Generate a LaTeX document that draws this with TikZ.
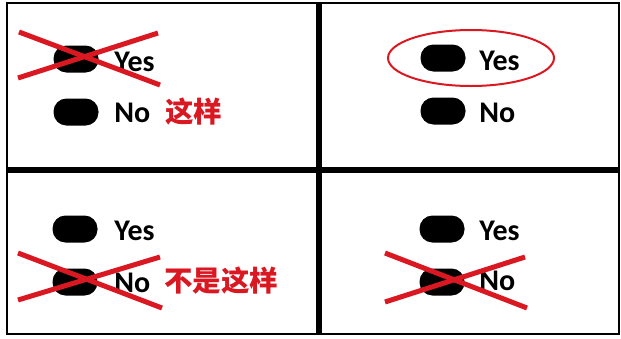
\documentclass[tikz,border=0pt]{standalone}
\usepackage{fontspec}
\setmainfont{Carlito}
\newfontfamily\cjk{Noto Sans CJK SC}
\usetikzlibrary{shapes.geometric,positioning}
\definecolor{markred}{RGB}{218,24,34}
\begin{document}
\begin{tikzpicture}[x=1pt,y=-1pt,semithick]
\tikzstyle{pill node}=[rectangle,fill=black,minimum width=45pt,minimum height=27pt,rounded corners=13pt,inner sep=0]
\tikzstyle{word node}=[anchor=base west,inner sep=0,font=\fontsize{30}{30}\selectfont\bfseries]

\tikzset{
	note node/.style={anchor=base west,inner sep=0,text=markred,font=\fontsize{28.5}{28.5}\selectfont\cjk\bfseries},
	cross line/.style={draw=markred,line width=5pt},
	ring node/.style={ellipse,draw=markred,line width=2pt,minimum width=166pt,minimum height=56pt,inner sep=0}
}
      \useasboundingbox (0,0) rectangle (621,338);
      \draw[line width=2pt] (7,3) rectangle (619,334);
      \draw[line width=6pt] (319,3) -- (319,334);
      \draw[line width=6pt] (7,170) -- (619,170);

      % top left
      \node[pill node] (tlY) at (76,59) {};
      \node[pill node] (tlN) at (76,112) {};
      \node[word node] (tlYes) at (114,71) {Yes};
      \node[word node] (tlNo) at (114,122) {No};
      \node[note node] (tlNote) at (165,122) {这样};
      \coordinate (tla) at (19,32);
      \coordinate (tlb) at (160,85);
      \coordinate (tlc) at (18,78);
      \coordinate (tld) at (158,33);
      \draw[cross line] (tla) -- (tlb);
      \draw[cross line] (tlc) -- (tld);

      % top right
      \node[pill node] (trY) at (443,58) {};
      \node[pill node] (trN) at (443,111) {};
      \node[word node] (trYes) at (479,70) {Yes};
      \node[word node] (trNo) at (479,122) {No};
      \node[ring node] (trRing) at (471,58) {};

      % bottom left
      \node[pill node] (blY) at (75,229) {};
      \node[pill node] (blN) at (75,282) {};
      \node[word node] (blYes) at (114,240) {Yes};
      \node[word node] (blNo) at (114,292) {No};
      \node[note node] (blNote) at (164,291) {不是这样};
      \coordinate (bla) at (18,253);
      \coordinate (blb) at (162,308);
      \coordinate (blc) at (18,300);
      \coordinate (bld) at (160,257);
      \draw[cross line] (bla) -- (blb);
      \draw[cross line] (blc) -- (bld);

      % bottom right
      \node[pill node] (brY) at (442,229) {};
      \node[pill node] (brN) at (442,282) {};
      \node[word node] (brYes) at (479,240) {Yes};
      \node[word node] (brNo) at (479,290) {No};
      \coordinate (bra) at (385,253);
      \coordinate (brb) at (527,308);
      \coordinate (brc) at (385,302);
      \coordinate (brd) at (525,257);
      \draw[cross line] (bra) -- (brb);
      \draw[cross line] (brc) -- (brd);
\end{tikzpicture}
\end{document}
